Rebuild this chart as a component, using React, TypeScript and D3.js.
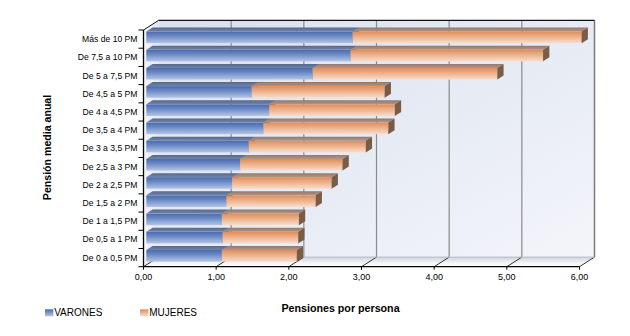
import React from "react";
import * as d3 from "d3";

const categories = [
  "Más de 10 PM",
  "De 7,5 a 10 PM",
  "De 5 a 7,5 PM",
  "De 4,5 a 5 PM",
  "De 4 a 4,5 PM",
  "De 3,5 a 4 PM",
  "De 3 a 3,5 PM",
  "De 2,5 a 3 PM",
  "De 2 a 2,5 PM",
  "De 1,5 a 2 PM",
  "De 1 a 1,5 PM",
  "De 0,5 a 1 PM",
  "De 0 a 0,5 PM",
];
const varones = [2.84, 2.81, 2.29, 1.45, 1.69, 1.61, 1.41, 1.29, 1.18, 1.1, 1.04, 1.05, 1.04];
const mujeres = [3.15, 2.65, 2.54, 1.83, 1.73, 1.72, 1.61, 1.41, 1.37, 1.23, 1.06, 1.04, 1.03];
const xTicks = [0, 1, 2, 3, 4, 5, 6];
const seriesNames = ["VARONES", "MUJERES"];

const W = 630;
const H = 336;
const FONT = "'Liberation Sans', Arial, sans-serif";

const x = d3.scaleLinear().domain([0, 6]).range([143.5, 579.5]);
const y = d3
  .scaleBand<string>()
  .domain(categories)
  .range([30, 266.7])
  .paddingInner(0.36)
  .paddingOuter(0.18);

const DX = 15;
const DY = -9.6;
const OX = 2.8;
const OY = -1.8;
const BDX = 6.3;
const BDY = -4;

const locale = d3.formatLocale({ decimal: ",", thousands: ".", grouping: [3], currency: ["", "€"] });
const fmt = locale.format(".2f");

const pts = (p: [number, number][]) => p.map((q) => q.join(",")).join(" ");

function Segment({ x0, x1, top, h, series }: { x0: number; x1: number; top: number; h: number; series: number }) {
  const front = series === 0 ? "url(#gBlue)" : "url(#gOrange)";
  const topFill = series === 0 ? "url(#gBlueTop)" : "url(#gOrangeTop)";
  const side = series === 0 ? "#3f5788" : "#7a5b46";
  return (
    <g>
      <rect x={x0} y={top} width={x1 - x0} height={h} fill={front} />
      <polygon
        points={pts([
          [x0, top],
          [x1, top],
          [x1 + BDX, top + BDY],
          [x0 + BDX, top + BDY],
        ])}
        fill={topFill}
      />
      <polygon
        points={pts([
          [x1, top],
          [x1 + BDX, top + BDY],
          [x1 + BDX, top + h + BDY],
          [x1, top + h],
        ])}
        fill={side}
      />
    </g>
  );
}

export default function App() {
  const x0 = x(0);
  const x6 = x(6);
  const yTop = y.range()[0];
  const yBot = y.range()[1];
  const bw = y.bandwidth();
  const step = y.step();
  const boundaries = d3.range(categories.length + 1).map((i) => yTop + i * step);

  return (
    <svg
      width={W}
      height={H}
      style={{ position: "absolute", left: 0, top: 0, background: "#fff" }}
      fontFamily={FONT}
    >
      <defs>
        <linearGradient id="gWall" x1="0" y1="0" x2="1" y2="1">
          <stop offset="0%" stopColor="#d9e0ee" />
          <stop offset="100%" stopColor="#f3f5fa" />
        </linearGradient>
        <linearGradient id="gFloor" x1="0" y1="0" x2="0" y2="1">
          <stop offset="0%" stopColor="#cfd3dc" />
          <stop offset="60%" stopColor="#f3f4f7" />
          <stop offset="100%" stopColor="#ffffff" />
        </linearGradient>
        <linearGradient id="gLeft" x1="0" y1="0" x2="1" y2="0">
          <stop offset="0%" stopColor="#f4f6fa" />
          <stop offset="100%" stopColor="#e2e7f1" />
        </linearGradient>
        <linearGradient id="gBlue" x1="0" y1="0" x2="0" y2="1">
          <stop offset="0%" stopColor="#4a6aae" />
          <stop offset="35%" stopColor="#6585c2" />
          <stop offset="100%" stopColor="#b3c5e6" />
        </linearGradient>
        <linearGradient id="gOrange" x1="0" y1="0" x2="0" y2="1">
          <stop offset="0%" stopColor="#de8c58" />
          <stop offset="35%" stopColor="#eba97f" />
          <stop offset="100%" stopColor="#f7ddcc" />
        </linearGradient>
        <linearGradient id="gBlueTop" x1="0" y1="1" x2="0" y2="0">
          <stop offset="0%" stopColor="#7084aa" />
          <stop offset="100%" stopColor="#56688c" />
        </linearGradient>
        <linearGradient id="gOrangeTop" x1="0" y1="1" x2="0" y2="0">
          <stop offset="0%" stopColor="#b39583" />
          <stop offset="100%" stopColor="#94786a" />
        </linearGradient>
        <linearGradient id="lgBlue" x1="0" y1="0" x2="0" y2="1">
          <stop offset="0%" stopColor="#4a6aae" />
          <stop offset="100%" stopColor="#b3c5e6" />
        </linearGradient>
        <linearGradient id="lgOrange" x1="0" y1="0" x2="0" y2="1">
          <stop offset="0%" stopColor="#de8c58" />
          <stop offset="100%" stopColor="#f7ddcc" />
        </linearGradient>
      </defs>

      {/* back wall */}
      <rect x={x0 + DX} y={yTop + DY} width={x6 - x0} height={yBot - yTop} fill="url(#gWall)" />
      {/* left wall */}
      <polygon
        points={pts([
          [x0, yTop],
          [x0 + DX, yTop + DY],
          [x0 + DX, yBot + DY],
          [x0, yBot],
        ])}
        fill="url(#gLeft)"
      />
      {/* floor */}
      <polygon
        points={pts([
          [x0, yBot],
          [x6, yBot],
          [x6 + DX, yBot + DY],
          [x0 + DX, yBot + DY],
        ])}
        fill="url(#gFloor)"
      />

      {/* back gridlines and floor lines */}
      {xTicks.map((t) => (
        <g key={"g" + t}>
          {t > 0 && (
            <line
              x1={x(t) + DX}
              x2={x(t) + DX}
              y1={yBot + DY}
              y2={yTop + DY}
              stroke={t === 6 ? "#7a7a7a" : "#8a8a8a"}
              strokeWidth={t === 6 ? 1.5 : 1.2}
            />
          )}
          <line x1={x(t)} y1={yBot} x2={x(t) + DX} y2={yBot + DY} stroke="#333" strokeWidth={1} />
        </g>
      ))}
      {/* back wall top line */}
      <line x1={x0 + DX} x2={x6 + DX} y1={yTop + DY} y2={yTop + DY} stroke="#111" strokeWidth={1.3} />
      <line x1={x0} y1={yTop} x2={x0 + DX} y2={yTop + DY} stroke="#111" strokeWidth={1} />
      <line x1={x0 + DX} x2={x6 + DX} y1={yBot + DY} y2={yBot + DY} stroke="#b8bcc6" strokeWidth={1} />

      {/* bars */}
      {categories.map((c, i) => {
        const top = (y(c) as number) + OY;
        const a = x(0) + OX;
        const b = x(varones[i]) + OX;
        const e = x(varones[i] + mujeres[i]) + OX;
        return (
          <g key={c}>
            <Segment x0={a} x1={b} top={top} h={bw} series={0} />
            <Segment x0={b} x1={e} top={top} h={bw} series={1} />
          </g>
        );
      })}

      {/* front axes */}
      <line x1={x0} x2={x0} y1={yTop} y2={yBot} stroke="#000" strokeWidth={1.3} />
      <line x1={x0} x2={x6} y1={yBot} y2={yBot} stroke="#000" strokeWidth={1.3} />
      {boundaries.map((b, i) => (
        <line key={"yt" + i} x1={x0 - 5} x2={x0} y1={b} y2={b} stroke="#000" strokeWidth={1} />
      ))}
      {xTicks.map((t) => (
        <g key={"xt" + t}>
          <line x1={x(t)} x2={x(t)} y1={yBot} y2={yBot + 3} stroke="#000" strokeWidth={1} />
          <text x={x(t)} y={280} fontSize={9} textAnchor="middle" fill="#000">
            {fmt(t)}
          </text>
        </g>
      ))}

      {/* category labels */}
      {categories.map((c) => (
        <text
          key={"l" + c}
          x={137.5}
          y={(y(c) as number) + bw / 2 + 3.1}
          fontSize={8.6}
          textAnchor="end"
          fill="#000"
        >
          {c}
        </text>
      ))}

      {/* axis titles */}
      <text
        transform={`translate(50.5,147.5) rotate(-90)`}
        fontSize={10.6}
        fontWeight="bold"
        textAnchor="middle"
        fill="#000"
      >
        Pensión media anual
      </text>
      <text x={340.5} y={312} fontSize={10.7} fontWeight="bold" textAnchor="middle" fill="#000">
        Pensiones por persona
      </text>

      {/* legend */}
      {seriesNames.map((s, i) => {
        const lx = i === 0 ? 45 : 140;
        return (
          <g key={s}>
            <rect x={lx} y={309.3} width={8.3} height={7} fill={i === 0 ? "url(#lgBlue)" : "url(#lgOrange)"} />
            <text x={lx + 9.2} y={316.3} fontSize={10} fill="#000">
              {s}
            </text>
          </g>
        );
      })}
    </svg>
  );
}
